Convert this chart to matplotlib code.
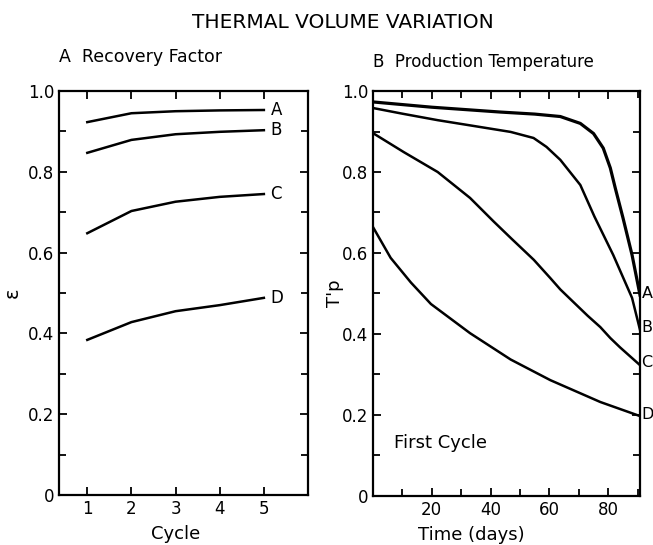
import matplotlib
matplotlib.use("Agg")
import matplotlib.pyplot as plt
from matplotlib.ticker import MultipleLocator

plt.rcParams['font.family'] = ['DejaVu Sans']

# Panel A - recovery factor vs cycle
cycles = [1, 2, 3, 4, 5]
eps_A = [0.923, 0.945, 0.950, 0.952, 0.953]
eps_B = [0.847, 0.879, 0.893, 0.899, 0.903]
eps_C = [0.648, 0.703, 0.726, 0.738, 0.745]
eps_D = [0.384, 0.428, 0.455, 0.470, 0.488]
curve_names = ['A', 'B', 'C', 'D']

# Panel B - production temperature, first cycle
days_A = [0, 20, 43.4, 55, 63.7, 70.5, 75, 78.3, 80.7, 82.4, 85, 88.1, 90.8]
tp_A = [0.973, 0.960, 0.948, 0.943, 0.937, 0.920, 0.895, 0.859, 0.810, 0.760, 0.687, 0.595, 0.496]
days_B = [0, 10, 22, 34, 46.8, 54.6, 59, 63.7, 70.5, 75.3, 81.7, 88.1, 90.8]
tp_B = [0.958, 0.944, 0.928, 0.914, 0.899, 0.884, 0.862, 0.830, 0.768, 0.690, 0.595, 0.489, 0.410]
days_C = [0, 10.5, 22, 33, 41, 47, 54.7, 60.3, 63.7, 67.7, 73, 77.3, 80.7, 84, 90.8]
tp_C = [0.896, 0.849, 0.800, 0.736, 0.678, 0.636, 0.583, 0.538, 0.510, 0.482, 0.445, 0.417, 0.390, 0.367, 0.323]
days_D = [0, 6, 12.9, 19.7, 33, 46.8, 60.3, 77.3, 90.5]
tp_D = [0.664, 0.588, 0.527, 0.474, 0.402, 0.337, 0.286, 0.232, 0.198]
end_labels_y = [0.50, 0.415, 0.33, 0.20]

fig = plt.figure(figsize=(6.53, 5.45), dpi=100)
ax1 = fig.add_axes([0.0904, 0.0917, 0.3813, 0.7413])
ax2 = fig.add_axes([0.5712, 0.0900, 0.4089, 0.7430])

lw = 1.8
for ax in (ax1, ax2):
    for s in ax.spines.values():
        s.set_linewidth(1.6)
    ax.tick_params(which='both', direction='in', top=True, right=True,
                   width=1.3, labelsize=12)
    ax.tick_params(which='major', length=6)
    ax.tick_params(which='minor', length=5)

# left panel
for vals in (eps_A, eps_B, eps_C, eps_D):
    ax1.plot(cycles, vals, color='black', lw=lw)
for name, vals in zip(curve_names, (eps_A, eps_B, eps_C, eps_D)):
    ax1.text(5.15, vals[-1], name, fontsize=12, va='center', ha='left')
ax1.set_xlim(0.36, 6.0)
ax1.set_ylim(0, 1.0)
ax1.set_xticks(cycles)
ax1.set_yticks([0, 0.2, 0.4, 0.6, 0.8, 1.0])
ax1.set_yticklabels(['0', '0.2', '0.4', '0.6', '0.8', '1.0'])
ax1.yaxis.set_minor_locator(MultipleLocator(0.1))
ax1.set_xlabel('Cycle', fontsize=13)
ax1.xaxis.set_label_coords(0.47, -0.075)
ax1.set_ylabel('\u03b5', fontsize=14)
ax1.yaxis.set_label_coords(-0.15, 0.5)
ax1.set_title('A  Recovery Factor', fontsize=12.5, loc='left', pad=21)

# right panel
ax2.plot(days_A, tp_A, color='black', lw=lw + 0.5)
ax2.plot(days_B, tp_B, color='black', lw=lw)
ax2.plot(days_C, tp_C, color='black', lw=lw)
ax2.plot(days_D, tp_D, color='black', lw=lw)
for name, yv in zip(curve_names, end_labels_y):
    ax2.text(91.3, yv, name, fontsize=11.5, va='center', ha='left', clip_on=False)
ax2.set_xlim(0, 90.8)
ax2.set_ylim(0, 1.0)
ax2.set_xticks([20, 40, 60, 80])
ax2.xaxis.set_minor_locator(MultipleLocator(10))
ax2.set_yticks([0, 0.2, 0.4, 0.6, 0.8, 1.0])
ax2.set_yticklabels(['0', '0.2', '0.4', '0.6', '0.8', '1.0'])
ax2.yaxis.set_minor_locator(MultipleLocator(0.1))
ax2.set_xlabel('Time (days)', fontsize=13)
ax2.xaxis.set_label_coords(0.37, -0.075)
ax2.set_ylabel("T'p", fontsize=13)
ax2.yaxis.set_label_coords(-0.11, 0.5)
ax2.text(7, 0.13, 'First Cycle', fontsize=13, va='center', ha='left')
ax2.set_title('B  Production Temperature', fontsize=12, loc='left', pad=17)

fig.text(0.525, 0.958, 'THERMAL VOLUME VARIATION', fontsize=14.5, ha='center', va='center')

fig.savefig('out.png', dpi=100)
